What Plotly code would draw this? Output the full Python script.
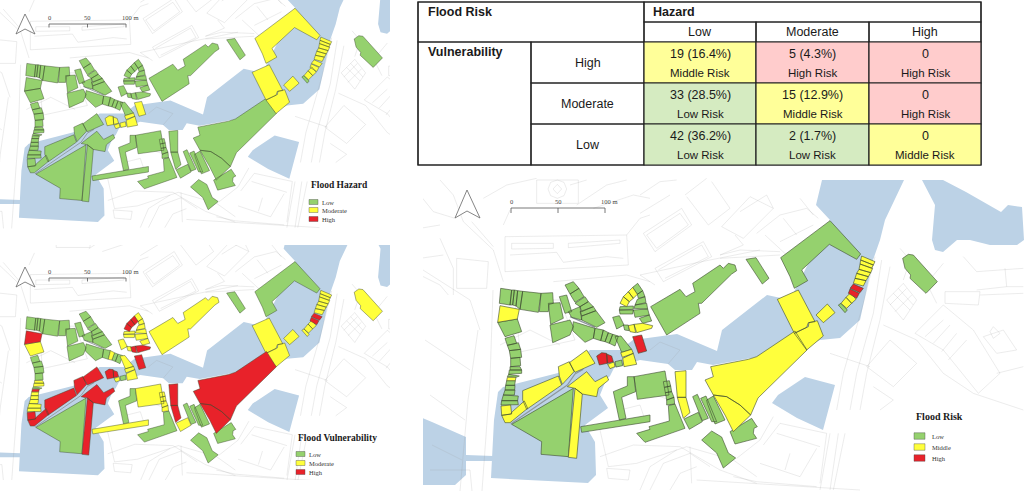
import plotly.graph_objects as go

# table values
hazard_labels = ["Low", "Moderate", "High"]
vuln_labels = ["High", "Moderate", "Low"]
counts = [["19 (16.4%)", "5 (4.3%)", "0"],
          ["33 (28.5%)", "15 (12.9%)", "0"],
          ["42 (36.2%)", "2 (1.7%)", "0"]]
risk_text = [["Middle Risk", "High Risk", "High Risk"],
             ["Low Risk", "Middle Risk", "High Risk"],
             ["Low Risk", "Low Risk", "Middle Risk"]]

# buildings: outline, hazard, vulnerability, risk (L/M/H)
west = [
    ([(62,55),(95,60),(90,105),(58,100)], "LLL"),
    ([(95,60),(103,60),(98,105),(90,105)], "LLL"),
    ([(103,60),(113,62),(108,108),(98,105)], "LLL"),
    ([(113,62),(128,64),(120,118),(108,108)], "LLL"),
    ([(128,64),(183,70),(175,127),(120,118)], "LLL"),
    ([(183,70),(218,68),(220,100),(207,103),(205,125),(178,125)], "LLL"),
    ([(60,107),(118,118),(112,147),(53,157)], "LHM"),
    ([(53,157),(112,147),(125,185),(75,200)], "LML"),
    ([(75,205),(102,197),(110,220),(82,226)], "LLL"),
    ([(82,226),(115,218),(122,238),(88,242)], "LLL"),
    ([(88,242),(122,238),(125,262),(92,265)], "LLL"),
    ([(92,265),(120,262),(122,287),(92,290)], "LLL"),
    ([(90,290),(120,290),(125,300),(90,300)], "LML"),
    ([(88,300),(125,300),(125,310),(86,313)], "LML"),
    ([(86,313),(118,318),(108,322),(82,320)], "LLL"),
    ([(82,322),(108,322),(106,332),(80,332)], "LHM"),
    ([(80,332),(106,332),(104,346),(77,346)], "LML"),
    ([(77,346),(105,346),(104,360),(75,360)], "LML"),
    ([(75,360),(105,360),(103,375),(70,375)], "LML"),
    ([(70,375),(115,378),(113,392),(65,392)], "LML"),
    ([(65,392),(113,392),(115,404),(63,405)], "LML"),
    ([(63,408),(92,405),(95,432),(65,436)], "LHM"),
    ([(65,436),(92,432),(97,425),(133,393),(143,415),(90,458),(75,458)], "LHM"),
    ([(128,362),(235,318),(245,345),(140,418),(128,390)], "LHM"),
    ([(235,290),(268,275),(282,305),(247,343),(238,318)], "LHM"),
    ([(268,278),(320,240),(345,280),(285,307)], "LHM"),
    ([(350,258),(365,248),(380,250),(382,280),(358,285)], "MHH"),
    ([(380,252),(395,258),(400,275),(382,280)], "MHH"),
    ([(383,283),(402,276),(405,290),(390,296)], "MMM"),
    ([(405,275),(425,270),(428,287),(408,291)], "MLL"),
    ([(428,265),(460,250),(470,283),(432,290)], "MMM"),
    ([(422,248),(455,238),(460,250),(427,262)], "MMM"),
    ([(405,200),(423,198),(455,238),(425,247)], "LML"),
    ([(458,200),(485,195),(500,243),(475,250)], "MHH"),
    ([(345,175),(370,180),(362,212),(340,205)], "LLL"),
    ([(370,180),(385,188),(375,215),(362,212)], "LML"),
    ([(385,188),(398,193),(388,220),(375,215)], "LLL"),
    ([(398,193),(415,198),(405,228),(388,220)], "LLL"),
    ([(280,155),(345,175),(340,205),(315,217),(278,182)], "LLL"),
    ([(210,165),(270,150),(280,170),(270,195),(218,218)], "LLL"),
    ([(205,100),(240,98),(250,145),(212,163)], "LLL"),
    ([(238,80),(260,75),(275,125),(255,130)], "LLL"),
    ([(255,45),(280,35),(297,55),(270,72)], "LLL"),
    ([(270,72),(297,55),(312,80),(285,97)], "LLL"),
    ([(285,100),(315,80),(325,95),(300,110)], "LLL"),
    ([(300,110),(325,95),(340,110),(305,125)], "LLL"),
    ([(300,125),(340,110),(348,122),(305,138)], "LLL"),
    ([(265,125),(300,110),(305,150),(275,142)], "LLL"),
    ([(305,138),(348,122),(375,158),(350,172),(305,150)], "LLL"),
    ([(95,463),(280,355),(265,560),(183,553),(185,515)], "LLL"),
    ([(285,355),(307,372),(290,565),(265,562)], "LHM"),
    ([(262,350),(320,305),(345,335),(380,317),(386,330),(355,355),(350,380),(307,372),(285,355)], "LHM"),
    ([(302,470),(510,435),(510,455),(305,487)], "LML"),
]

middle = [
    ([(60,130),(70,110),(88,125),(80,140)], "LHM"),
    ([(70,110),(85,95),(100,115),(88,125)], "LHM"),
    ([(85,95),(98,82),(112,103),(100,115)], "LHM"),
    ([(98,82),(113,70),(128,92),(112,103)], "LML"),
    ([(112,103),(128,92),(135,110),(115,115)], "LML"),
    ([(112,118),(135,110),(138,128),(105,135)], "LML"),
    ([(105,135),(140,130),(143,147),(102,145)], "LML"),
    ([(60,140),(100,138),(100,148),(58,150)], "LML"),
    ([(58,150),(100,150),(98,162),(60,162)], "LML"),
    ([(100,150),(143,147),(148,165),(105,172)], "LML"),
    ([(118,175),(148,165),(155,183),(128,190)], "LML"),
    ([(38,172),(58,167),(72,195),(50,207)], "LML"),
    ([(70,195),(85,195),(88,212),(74,210)], "LML"),
    ([(85,197),(102,193),(107,218),(90,215)], "LHM"),
    ([(102,193),(128,190),(158,197),(155,205),(110,218)], "LHM"),
    ([(152,140),(240,88),(258,110),(285,95),(278,70),(360,15),(370,25),(385,10),(405,15),(410,32),(395,42),(305,130),(295,130),(300,160),(200,225)], "LML"),
    ([(225,335),(258,332),(258,412),(232,412)], "LHM"),
    ([(232,412),(258,412),(270,458),(250,475)], "LHM"),
    ([(252,477),(295,457),(307,485),(268,508)], "LML"),
    ([(102,350),(195,333),(207,405),(112,418)], "LML"),
    ([(190,365),(208,362),(212,378),(193,382)], "LML"),
    ([(193,382),(212,378),(215,395),(196,398)], "LML"),
    ([(196,398),(215,395),(222,412),(200,420)], "LML"),
    ([(200,420),(222,412),(224,432),(200,435)], "LML"),
    ([(40,395),(82,378),(82,350),(102,350),(107,395),(65,412),(78,475),(58,480)], "LLL"),
    ([(205,437),(225,432),(255,505),(135,547),(110,520),(150,508),(147,500),(208,483)], "LLL"),
    ([(278,410),(292,403),(325,475),(307,482)], "LLL"),
    ([(302,415),(318,408),(350,485),(335,485)], "LLL"),
    ([(320,420),(340,408),(375,480),(345,492),(322,430)], "LLL"),
    ([(315,360),(340,350),(332,320),(445,298),(470,290),(585,213),(621,270),(474,414),(452,465),(420,435),(380,410),(340,405)], "LHM"),
    ([(340,405),(380,410),(420,435),(452,465),(400,515),(375,465)], "LHM"),
    ([(390,515),(455,475),(468,495),(472,500),(462,505),(460,520),(470,535),(405,552)], "LLL"),
    ([(305,540),(335,513),(365,531),(385,579),(407,594),(370,624),(350,579)], "LLL"),
]

east = [
    ([(18,148),(48,143),(87,205),(67,222)], "LLL"),
    ([(122,143),(270,32),(362,132),(350,148),(268,103),(185,180),(203,212),(163,235),(150,200)], "MLL"),
    ([(112,268),(175,240),(225,335),(205,338),(200,352),(163,370)], "MMM"),
    ([(163,370),(205,350),(207,338),(232,332),(250,378),(200,420)], "MMM"),
    ([(228,315),(262,282),(285,308),(250,338)], "MMM"),
    ([(365,138),(405,155),(400,165),(362,150)], "MMM"),
    ([(362,150),(400,165),(395,175),(360,162)], "MMM"),
    ([(360,162),(398,175),(392,188),(357,178)], "MMM"),
    ([(357,178),(392,188),(385,200),(350,190)], "MMM"),
    ([(350,190),(385,200),(378,212),(345,205)], "MMM"),
    ([(345,205),(378,212),(370,228),(340,220)], "MMM"),
    ([(340,222),(370,235),(360,248),(330,235)], "MHH"),
    ([(330,237),(358,250),(350,265),(325,250)], "MHH"),
    ([(318,262),(332,248),(348,268),(335,280)], "MMM"),
    ([(303,280),(318,262),(335,280),(320,295)], "MMM"),
    ([(295,285),(303,280),(322,300),(315,308)], "LML"),
    ([(488,145),(505,133),(520,135),(570,190),(592,215),(558,250),(510,205),(512,195),(495,175)], "LML"),
]

# water, in page pixels of the right hand map
water = [
    [(503,387),(558,373),(590,350),(620,350),(633,340),(677,334),(717,351),(722,330),(767,295),(790,300),(795,290),(805,270),(830,220),(816,205),(822,180),(904,180),(885,220),(880,240),(873,260),(865,297),(860,320),(840,338),(820,340),(790,355),(757,357),(713,365),(697,362),(692,370),(675,370),(668,364),(640,360),(614,368),(610,376),(606,380),(600,395),(608,408),(585,425),(595,442),(596,475),(588,483),(491,478),(494,420),(498,392)],
    [(420,417),(432,422),(466,437),(466,455),(493,456),(493,461),(466,461),(466,475),(455,485),(420,485)],
    [(922,180),(943,180),(966,192),(1001,212),(1008,205),(1022,207),(1024,240),(1017,245),(990,245),(970,240),(957,240),(943,252),(935,250),(932,240),(935,205)],
    [(805,377),(835,385),(823,430),(797,418),(772,403),(778,395)],
]

# basemap lines, same 3x crop habit as the buildings
streets_nw = [
    [(350,15),(475,15),(475,85),(350,85),(350,15)],
    [(412,15),(432,22),(440,42),(432,62),(412,70),(392,62),(384,42),(392,22),(412,15)],
    [(412,28),(425,42),(412,56),(399,42),(412,28)],
    [(255,185),(620,180),(625,270),(255,290),(255,185)],
    [(275,205),(400,205),(400,220),(275,222),(275,205)],
    [(445,205),(600,195),(600,205),(445,218),(445,205)],
    [(270,240),(410,232),(430,262),(560,245),(610,250)],
    [(130,140),(220,225),(250,320)],
    [(155,140),(220,215)],
    [(0,160),(60,150)],
    [(60,190),(100,280),(100,360)],
    [(0,250),(70,240)],
    [(110,250),(205,260),(200,340),(110,340),(110,250)],
    [(190,70),(260,30),(350,10)],
    [(250,150),(270,105)],
    [(450,30),(500,15)],
    [(470,90),(560,30),(620,15)],
    [(520,100),(640,60),(690,70)],
    [(620,180),(660,130),(690,120)],
    [(400,320),(620,300),(690,320)],
    [(0,60),(40,110),(105,130)],
    [(60,15),(100,60),(130,140)],
    [(0,300),(60,330),(85,360)],
]

streets_n = [
    [(10,175),(125,100),(155,150),(45,230),(10,175)],
    [(20,180),(120,115),(145,150),(50,220),(20,180)],
    [(45,280),(190,200),(215,245),(70,320),(45,280)],
    [(55,285),(185,210),(205,245),(75,310)],
    [(135,60),(200,10)],
    [(140,65),(205,150),(270,100),(215,20)],
    [(245,155),(330,65),(400,100),(310,190),(245,155)],
    [(300,110),(380,60),(400,100)],
    [(350,175),(420,120),(500,100),(535,130)],
    [(375,180),(440,240)],
    [(240,240),(300,225),(420,230)],
    [(240,250),(420,240)],
    [(420,200),(520,150)],
    [(0,60),(60,20),(110,15)],
    [(0,115),(90,60)],
    [(285,180),(310,210),(240,240)],
    [(430,130),(470,180)],
    [(480,70),(520,120)],
    [(0,300),(45,330)],
]

streets_e = [
    [(135,50),(100,190),(40,400),(20,510)],
    [(155,60),(130,220),(80,400),(60,510)],
    [(180,80),(150,240),(110,400),(90,510)],
    [(170,180),(220,130),(260,180),(220,240),(170,180)],
    [(190,160),(240,210)],
    [(205,145),(250,195)],
    [(180,195),(230,145)],
    [(195,215),(245,165)],
    [(0,340),(60,360),(120,380)],
    [(160,255),(260,300),(340,400),(430,460),(580,510)],
    [(255,280),(340,195),(430,270),(510,400),(445,460),(340,330),(255,280)],
    [(345,155),(450,155),(445,195),(345,190),(345,155)],
    [(440,95),(580,85)],
    [(440,150),(530,140),(525,85)],
    [(580,140),(530,140)],
    [(450,165),(580,160)],
    [(285,290),(340,240)],
    [(310,310),(360,255)],
    [(335,335),(380,280)],
    [(355,360),(410,300)],
    [(460,290),(500,340),(560,330),(520,270),(460,290)],
    [(490,260),(510,280),(490,295),(480,275),(490,260)],
    [(500,400),(580,380)],
    [(180,300),(260,370),(190,440),(110,380),(180,300)],
    [(130,440),(190,480),(150,510)],
    [(340,70),(290,130),(320,190)],
    [(400,50),(440,95)],
    [(210,25),(240,60),(220,120)],
]

streets_s = [
    [(0,120),(25,230),(110,220),(260,170),(400,210),(470,260)],
    [(0,200),(100,165),(240,170),(360,240),(470,280)],
    [(150,300),(190,220),(270,190),(330,230)],
    [(210,300),(240,250),(290,230)],
    [(270,170),(275,280)],
    [(490,165),(540,100),(680,130),(660,280)],
    [(530,130),(660,170)],
    [(480,220),(600,260),(650,175)],
    [(570,190),(555,240)],
    [(690,130),(660,300)],
    [(715,130),(690,300)],
    [(735,130),(700,300)],
    [(410,205),(480,150),(520,80)],
    [(290,270),(780,300)],
    [(20,235),(90,240),(85,270),(25,265),(20,235)],
    [(120,300),(150,230),(230,180)],
    [(400,260),(470,275),(650,290)],
]

# in page pixels, west side and centre
streets_page = [
    [(423,270),(470,300),(480,330)],
    [(493,290),(490,380),(482,491)],
    [(478,330),(468,400),(460,491)],
    [(425,340),(470,370)],
    [(430,395),(465,420)],
    [(432,445),(462,460)],
    [(430,470),(470,470),(472,491)],
    [(515,300),(560,300),(575,340),(520,352),(515,300)],
    [(500,345),(530,330),(560,345)],
    [(640,275),(700,262),(760,250)],
    [(640,390),(670,400),(672,425)],
    [(618,392),(650,388)],
    [(620,410),(640,405),(645,420)],
    [(650,350),(660,342),(680,350),(668,364)],
]

path_west = [(92,462),(262,345),(285,312),(310,298)]
path_north = [(270,140),(345,172)]

building_colors = {"L": "#95d16e", "M": "#ffff3c", "H": "#e8222a"}
water_color = "#bcd2e6"


def to_page(pts, ox, oy):
    return [(ox + x / 3, oy + y / 3) for x, y in pts]


buildings = ([(to_page(p, 480, 270), c) for p, c in west]
             + [(to_page(p, 600, 260), c) for p, c in middle]
             + [(to_page(p, 740, 210), c) for p, c in east])

streets = ([to_page(p, 420, 175) for p in streets_nw]
           + [to_page(p, 640, 175) for p in streets_n]
           + [to_page(p, 830, 240) for p in streets_e]
           + [to_page(p, 600, 390) for p in streets_s]
           + streets_page)


def poly_xy(polys):
    xs, ys = [], []
    for pts in polys:
        xs += [p[0] for p in pts] + [None]
        ys += [p[1] for p in pts] + [None]
    return xs, ys


fig = go.Figure()
# axis pair, column in the class string, outline width, path width
panels = [("x", "y", 0, 0.45, 0.9), ("x2", "y2", 1, 0.45, 0.9), ("x3", "y3", 2, 0.6, 1.2)]

for xa, ya, idx, lw, pw in panels:
    x, y = poly_xy(water)
    fig.add_trace(go.Scatter(x=x, y=y, xaxis=xa, yaxis=ya, mode="lines", fill="toself",
                             fillcolor=water_color, line=dict(width=0), hoverinfo="skip"))
    x, y = poly_xy(streets)
    fig.add_trace(go.Scatter(x=x, y=y, xaxis=xa, yaxis=ya, mode="lines",
                             line=dict(color="rgba(150,150,150,0.3)", width=0.6), hoverinfo="skip"))
    x, y = poly_xy([to_page(path_west, 480, 270), to_page(path_north, 480, 270)])
    fig.add_trace(go.Scatter(x=x, y=y, xaxis=xa, yaxis=ya, mode="lines",
                             line=dict(color="#8f989e", width=pw), hoverinfo="skip"))
    for level in "LMH":
        polys = [p for p, c in buildings if c[idx] == level]
        if not polys:
            continue
        x, y = poly_xy([p + [p[0]] for p in polys])
        fig.add_trace(go.Scatter(x=x, y=y, xaxis=xa, yaxis=ya, mode="lines", fill="toself",
                                 fillcolor=building_colors[level],
                                 line=dict(color="#3d4a30", width=lw), hoverinfo="skip"))

shapes = []
annotations = []


def text(x, y, s, size, color="#1a1a1a", family="Liberation Sans", anchor="center", bold=False):
    annotations.append(dict(x=x, y=y, xref="x4", yref="y4", text=f"<b>{s}</b>" if bold else s,
                            showarrow=False, xanchor=anchor, yanchor="middle",
                            font=dict(size=size, color=color, family=family)))


def rect(x0, y0, x1, y1, fill=None, line="#222222", width=1.2):
    shapes.append(dict(type="rect", x0=x0, y0=y0, x1=x1, y1=y1, xref="x4", yref="y4",
                       fillcolor=fill if fill else "rgba(0,0,0,0)",
                       line=dict(color=line, width=width), layer="above"))


# table
col_x = [418, 531, 644, 756, 869, 981]
row_y = [2, 22, 42, 83, 124, 165]
cell_fill = {"Low Risk": "#d5ebc1", "Middle Risk": "#ffff99", "High Risk": "#ffcccc"}

rect(col_x[0], row_y[0], col_x[5], row_y[5], fill="white")
rect(col_x[0], row_y[0], col_x[2], row_y[2])
rect(col_x[2], row_y[0], col_x[5], row_y[1])
rect(col_x[0], row_y[2], col_x[1], row_y[5])
for j, h in enumerate(hazard_labels):
    rect(col_x[j + 2], row_y[1], col_x[j + 3], row_y[2])
    text((col_x[j + 2] + col_x[j + 3]) / 2, (row_y[1] + row_y[2]) / 2, h, 12.5)
for i, v in enumerate(vuln_labels):
    rect(col_x[1], row_y[i + 2], col_x[2], row_y[i + 3])
    text((col_x[1] + col_x[2]) / 2, (row_y[i + 2] + row_y[i + 3]) / 2, v, 12.5)
    for j in range(3):
        x0, x1 = col_x[j + 2], col_x[j + 3]
        y0, y1 = row_y[i + 2], row_y[i + 3]
        rect(x0, y0, x1, y1, fill=cell_fill[risk_text[i][j]])
        text((x0 + x1) / 2, y0 + 12, counts[i][j], 12.5)
        text((x0 + x1) / 2, y0 + 31, risk_text[i][j], 11.5)
text(426, 12, "Flood Risk", 12.5, anchor="left", bold=True)
text(651, 12, "Hazard", 12.5, anchor="left", bold=True)
text(426, 52, "Vulnerability", 12.5, anchor="left", bold=True)


def legend(title, labels, title_x, title_y, sw_x, sw_w, sw_h, rows, text_x, tsize, isize):
    text(title_x, title_y, title, tsize, family="Liberation Serif", anchor="left", bold=True)
    for lab, ry, col in zip(labels, rows, ["L", "M", "H"]):
        rect(sw_x, ry - sw_h / 2, sw_x + sw_w, ry + sw_h / 2, fill=building_colors[col],
             line="#4a4a4a", width=0.4)
        text(text_x, ry, lab, isize, color="#333333", family="Liberation Serif", anchor="left")


legend("Flood Hazard", ["Low", "Moderate", "High"], 309, 185, 309, 9, 5, [202, 210, 219], 320, 9.5, 6.5)
legend("Flood Vulnerability", ["Low", "Moderate", "High"], 296, 438, 296, 9, 5, [454, 463, 472], 307, 9.5, 6.5)
legend("Flood Risk", ["Low", "Middle", "High"], 914, 416, 914, 11, 6.5, [436, 447, 458], 930, 10, 6.5)


def scale_bar(x0, x1, y, ly, tick, size):
    xm = (x0 + x1) / 2
    path = f"M{x0},{y + tick} L{x0},{y} L{x1},{y} L{x1},{y + tick} M{xm},{y} L{xm},{y + tick}"
    shapes.append(dict(type="path", path=path, xref="x4", yref="y4",
                       line=dict(color="#555555", width=0.8), layer="above"))
    text(x0, ly, "0", size, color="#444444", family="Liberation Serif")
    text(xm, ly, "50", size, color="#444444", family="Liberation Serif")
    text(x1 + 4, ly, "100 m", size, color="#444444", family="Liberation Serif")


def north_arrow(xl, xm, xr, ytop, ybot, ynotch):
    path = f"M{xl},{ybot} L{xm},{ytop} L{xr},{ybot} L{xm},{ynotch} Z"
    shapes.append(dict(type="path", path=path, xref="x4", yref="y4", fillcolor="white",
                       line=dict(color="#666666", width=0.8), layer="above"))


scale_bar(49, 126, 24, 17, 3.5, 6.5)
scale_bar(49, 126, 278, 271, 3.5, 6.5)
scale_bar(511, 605, 208, 201, 5, 6.5)
north_arrow(16, 25, 35, 14, 34, 29)
north_arrow(16, 25, 35, 267, 287, 282)
north_arrow(455, 467, 480, 190, 218, 211)

# all maps share one data space, each one only shows its own window
scale = 1.228
ox, oy = 467.7, 210.5


def hidden(domain, rng, **kw):
    return dict(domain=domain, range=rng, visible=False, fixedrange=True, **kw)


W, H = 1024, 491
layout_axes = dict(
    xaxis=hidden([0, 390 / W], [ox, ox + scale * 390]),
    yaxis=hidden([1 - 235 / H, 1], [oy + scale * 235, oy]),
    xaxis2=hidden([0, 390 / W], [ox, ox + scale * 390]),
    yaxis2=hidden([1 - 480 / H, 1 - 245 / H], [oy + scale * (480 - 253.3), oy + scale * (245 - 253.3)]),
    xaxis3=hidden([423 / W, 1], [423, 1024]),
    yaxis3=hidden([0, 1 - 178 / H], [491, 178]),
    xaxis4=hidden([0, 1], [0, W]),
    yaxis4=hidden([0, 1], [H, 0]),
)

# empty trace so the overlay axes exist
fig.add_trace(go.Scatter(x=[None], y=[None], xaxis="x4", yaxis="y4", hoverinfo="skip"))

fig.update_layout(width=W, height=H, margin=dict(l=0, r=0, t=0, b=0), showlegend=False,
                  paper_bgcolor="white", plot_bgcolor="rgba(0,0,0,0)",
                  shapes=shapes, annotations=annotations, **layout_axes)

fig.write_html("out.html", post_script="document.body.style.margin='0';", config={"displayModeBar": False})
